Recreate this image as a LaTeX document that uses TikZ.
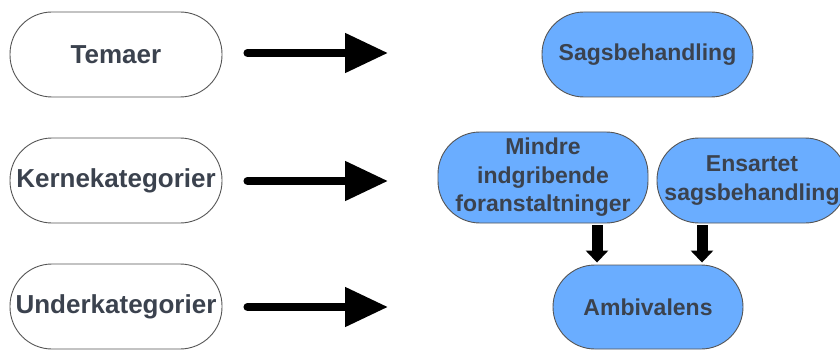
\documentclass[tikz,border=0pt]{standalone}
\usepackage{fontspec}
\setmainfont{Liberation Sans}
\usetikzlibrary{arrows.meta}
\definecolor{boxblue}{RGB}{106,173,255}
\definecolor{labelgray}{RGB}{59,66,78}
\definecolor{edgegray}{RGB}{85,85,85}

\begin{document}
\begin{tikzpicture}[x=1pt,y=-1pt,
  level/.style={draw=edgegray,line width=0.9pt,rounded corners=42pt,inner sep=0pt,
    text=labelgray,font=\fontsize{26}{31}\selectfont\bfseries,align=center},
  theme/.style={draw=edgegray,fill=boxblue,line width=0.9pt,rounded corners=42pt,inner sep=0pt,
    text=labelgray,font=\fontsize{23}{28.5}\selectfont\bfseries,align=center},
  bigarrow/.style={line width=8pt,line cap=round,-{Triangle[length=43pt,width=38pt]}},
  downarrow/.style={line width=11pt,-{Triangle[length=12pt,width=22pt]}}]
\useasboundingbox (0,0) rectangle (840,350);
\clip (0,0) rectangle (840,350);

\node[level,minimum width=212pt,minimum height=85pt] (temaer) at (116,54.5) {Temaer};
\node[level,minimum width=212pt,minimum height=85pt] (kerne) at (116,180.5) {Kernekategorier};
\node[level,minimum width=212pt,minimum height=85pt] (under) at (116,306.5) {Underkategorier};

\node[theme,minimum width=211pt,minimum height=85pt] (sags) at (647.5,54.5) {Sagsbehandling};
\node[theme,minimum width=210pt,minimum height=91pt] (mindre) at (543,177.5) {Mindre\\indgribende\\foranstaltninger};
\node[theme,minimum width=190pt,minimum height=85pt] (ensartet) at (752,180.5) {Ensartet\\sagsbehandling};
\node[theme,minimum width=190pt,minimum height=84pt] (ambi) at (648,307) {Ambivalens};

\coordinate (tipA) at (388,53);
\coordinate (tipB) at (388,181);
\coordinate (tipC) at (388,307);
\draw[bigarrow] ([xshift=25pt]temaer.east |- tipA) -- (tipA);
\draw[bigarrow] ([xshift=25pt]kerne.east |- tipB) -- (tipB);
\draw[bigarrow] ([xshift=25pt]under.east |- tipC) -- (tipC);

\coordinate (m1) at ([xshift=54pt]mindre.south);
\coordinate (e1) at ([xshift=-50pt]ensartet.south);
\draw[downarrow,shorten <=2pt,shorten >=2pt] (m1) -- (m1 |- ambi.north);
\draw[downarrow,shorten <=2pt,shorten >=2pt] (e1) -- (e1 |- ambi.north);
\end{tikzpicture}
\end{document}
